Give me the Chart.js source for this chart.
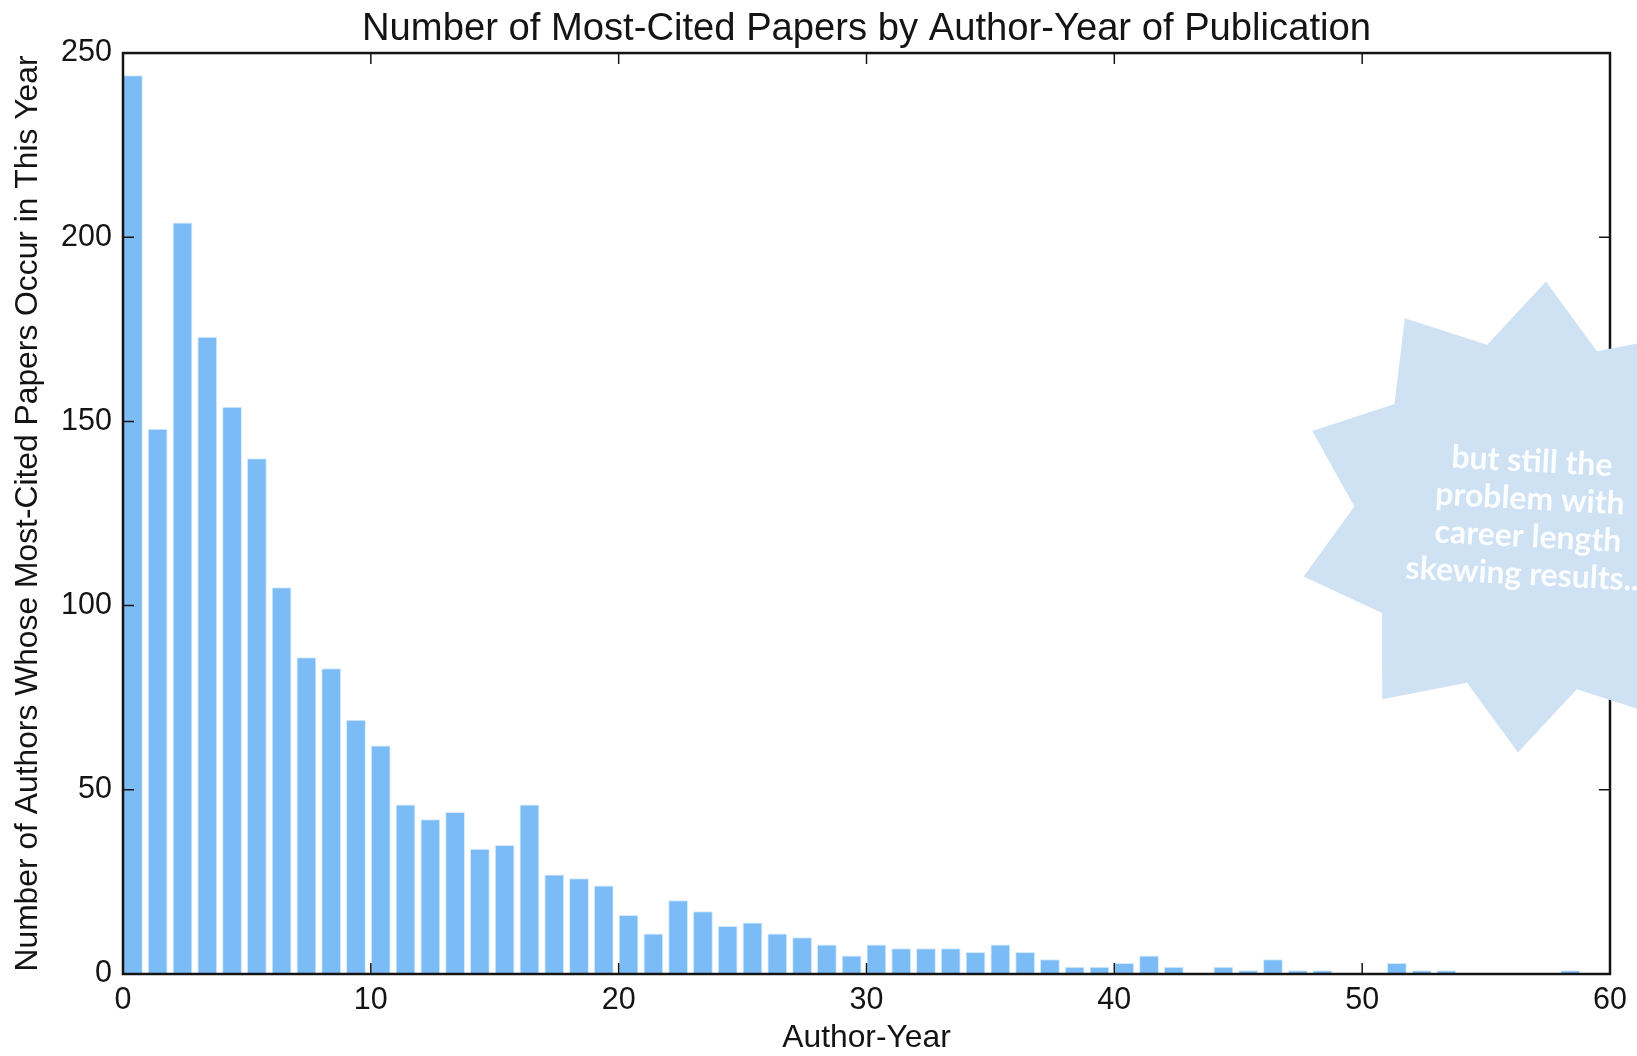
<!DOCTYPE html>
<html>
<head>
<meta charset="utf-8">
<script src="https://cdn.jsdelivr.net/npm/chart.js@4.4.1/dist/chart.umd.min.js"></script>
<style>
  html, body { margin: 0; padding: 0; background: #ffffff; overflow: hidden; }
  #wrap { width: 1637px; height: 1056px; position: relative; }
</style>
</head>
<body>
<div id="wrap"><canvas id="chart" width="1637" height="1056"></canvas></div>
<script>
// Author-year (years since first publication) and the number of authors
// whose most-cited paper appeared in that year.
const authorYear = [
   0,  1,  2,  3,  4,  5,  6,  7,  8,  9,
  10, 11, 12, 13, 14, 15, 16, 17, 18, 19,
  20, 21, 22, 23, 24, 25, 26, 27, 28, 29,
  30, 31, 32, 33, 34, 35, 36, 37, 38, 39,
  40, 41, 42, 43, 44, 45, 46, 47, 48, 49,
  50, 51, 52, 53, 54, 55, 56, 57, 58, 59
];
const authorCounts = [
  244, 148, 204, 173, 154, 140, 105, 86, 83, 69,
   62,  46,  42,  44,  34,  35,  46, 27, 26, 24,
   16,  11,  20,  17,  13,  14,  11, 10,  8,  5,
    8,   7,   7,   7,   6,   8,   6,  4,  2,  2,
    3,   5,   2,   0,   2,   1,   4,  1,  1,  0,
    0,   3,   1,   1,   0,   0,   0,  0,  1,  0
];
const xTickValues = [0, 10, 20, 30, 40, 50, 60];
const yTickValues = [0, 50, 100, 150, 200, 250];
const calloutLines = ['but still the', 'problem with', 'career length', 'skewing results...'];

const BAR_WIDTH = 0.8;      // bars start at each author-year and span 0.8 of a year
const FONT = "'Liberation Sans', Arial, Helvetica, sans-serif";
const INK = '#141414';

// Each bar is placed at the centre of its [year, year + 0.8] span.
const barPoints = authorYear.map((yr, i) => ({ x: yr + BAR_WIDTH / 2, y: authorCounts[i] }));

// Box frame with inward-pointing ticks on all four sides.
const boxFrame = {
  id: 'boxFrame',
  afterDatasetsDraw(chart) {
    const { ctx, chartArea: a, scales: { x, y } } = chart;
    const len = 11;
    ctx.save();
    ctx.strokeStyle = INK;
    ctx.lineWidth = 1.5;
    ctx.beginPath();
    xTickValues.forEach(v => {
      const px = x.getPixelForValue(v);
      ctx.moveTo(px, a.bottom); ctx.lineTo(px, a.bottom - len);
      ctx.moveTo(px, a.top);    ctx.lineTo(px, a.top + len);
    });
    yTickValues.forEach(v => {
      const py = y.getPixelForValue(v);
      ctx.moveTo(a.left, py);  ctx.lineTo(a.left + len, py);
      ctx.moveTo(a.right, py); ctx.lineTo(a.right - len, py);
    });
    ctx.stroke();
    ctx.lineWidth = 2.5;
    ctx.strokeRect(a.left, a.top, a.right - a.left, a.bottom - a.top);
    ctx.restore();
  }
};

// Ten-point starburst callout in the right margin.
const starCallout = {
  id: 'starCallout',
  afterDraw(chart) {
    const ctx = chart.ctx;
    const cx = 1532, cy = 517, rOuter = 236, rInner = 178, points = 10;
    const start = -86.6 * Math.PI / 180;
    ctx.save();
    ctx.fillStyle = '#cfe2f3';
    ctx.beginPath();
    for (let k = 0; k < points * 2; k++) {
      const r = k % 2 === 0 ? rOuter : rInner;
      const ang = start + k * Math.PI / points;
      const px = cx + r * Math.cos(ang), py = cy + r * Math.sin(ang);
      if (k === 0) ctx.moveTo(px, py); else ctx.lineTo(px, py);
    }
    ctx.closePath();
    ctx.fill();

    ctx.translate(1529, 518);
    ctx.rotate(3 * Math.PI / 180);
    ctx.fillStyle = '#fbfdff';
    ctx.font = "bold 32px Lato, 'Open Sans', sans-serif";
    ctx.textAlign = 'center';
    ctx.textBaseline = 'middle';
    const lh = 37.7;
    calloutLines.forEach((line, i) => {
      ctx.fillText(line, 0, (i - (calloutLines.length - 1) / 2) * lh);
    });
    ctx.restore();
  }
};

new Chart(document.getElementById('chart'), {
  type: 'bar',
  data: {
    datasets: [{
      data: barPoints,
      backgroundColor: '#7bbcf6',
      borderColor: '#d6eafc',
      borderWidth: 1,
      barPercentage: BAR_WIDTH,
      categoryPercentage: 1.0
    }]
  },
  options: {
    responsive: false,
    animation: false,
    events: [],
    layout: { padding: { left: 0, right: 27, top: 0, bottom: 0 } },
    plugins: {
      legend: { display: false },
      tooltip: { enabled: false },
      title: {
        display: true,
        fullSize: false,
        text: 'Number of Most-Cited Papers by Author-Year of Publication',
        color: INK,
        font: { family: FONT, size: 38.2, weight: 'normal', lineHeight: 1.2 },
        padding: { top: 7, bottom: 0.2 }
      }
    },
    scales: {
      x: {
        type: 'linear',
        min: 0,
        max: 60,
        offset: false,
        grid: { display: false, drawTicks: false },
        border: { display: false },
        afterBuildTicks: s => { s.ticks = xTickValues.map(v => ({ value: v })); },
        ticks: {
          color: INK,
          font: { family: FONT, size: 30.5 },
          padding: 8,
          maxRotation: 0,
          autoSkip: false
        },
        title: {
          display: true,
          text: 'Author-Year',
          color: INK,
          font: { family: FONT, size: 31.8, lineHeight: 1.0 },
          padding: { top: 0, bottom: 1.5 }
        },
        afterFit: s => { s.height = 82; }
      },
      y: {
        min: 0,
        max: 250,
        grid: { display: false, drawTicks: false },
        border: { display: false },
        afterBuildTicks: s => { s.ticks = yTickValues.map(v => ({ value: v })); },
        ticks: {
          color: INK,
          font: { family: FONT, size: 30.5 },
          padding: 11
        },
        title: {
          display: true,
          text: 'Number of Authors Whose Most-Cited Papers Occur in This Year',
          color: INK,
          font: { family: FONT, size: 31.8, lineHeight: 1.2 },
          padding: { top: 9, bottom: 0 }
        },
        afterFit: s => { s.width = 123; }
      }
    }
  },
  plugins: [boxFrame, starCallout]
});
</script>
</body>
</html>
